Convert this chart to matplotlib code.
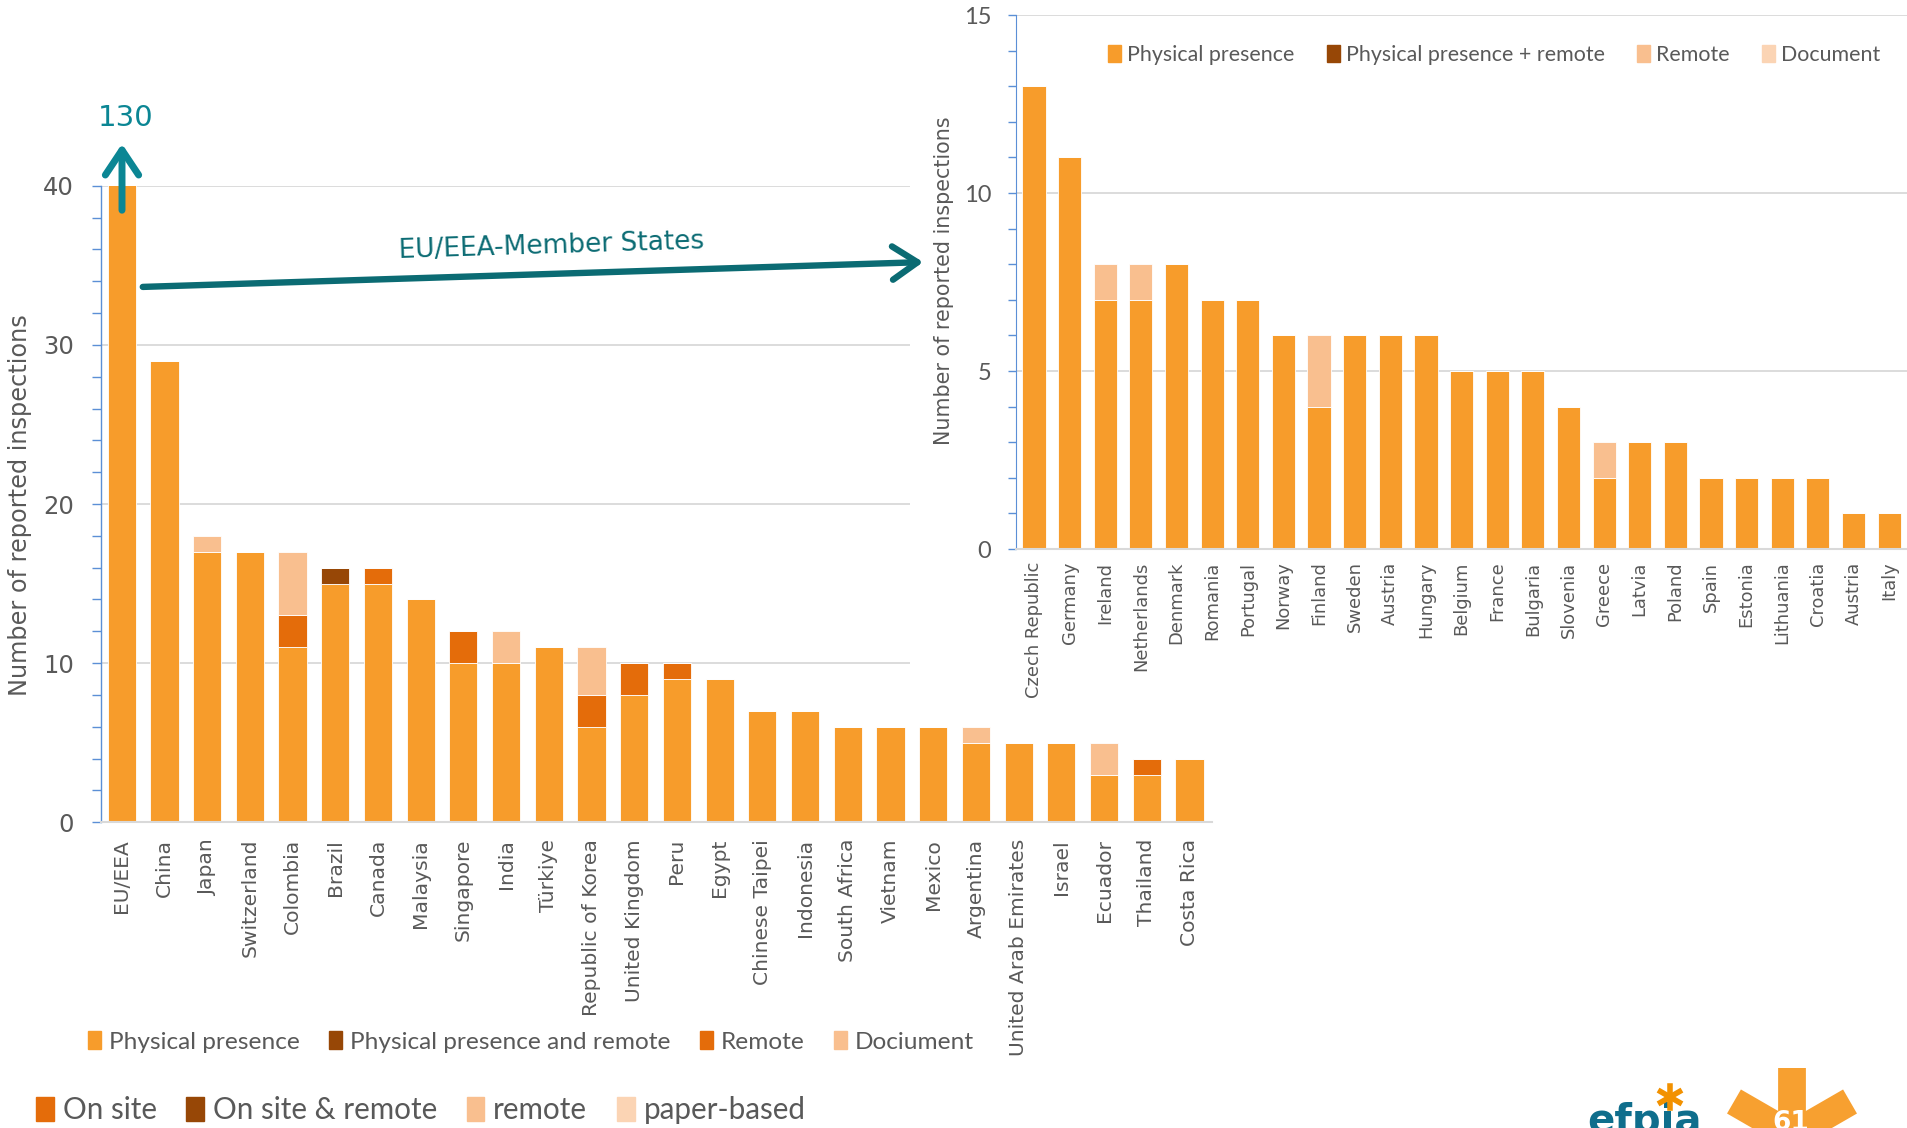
import numpy as np
import matplotlib
matplotlib.use("Agg")
import matplotlib.pyplot as plt
from matplotlib.patches import Patch, Rectangle, FancyArrowPatch
from matplotlib.lines import Line2D

# ---- data: left chart (all countries)
countries = ["EU/EEA", "China", "Japan", "Switzerland", "Colombia", "Brazil", "Canada",
             "Malaysia", "Singapore", "India", "Türkiye", "Republic of Korea",
             "United Kingdom", "Peru", "Egypt", "Chinese Taipei", "Indonesia",
             "South Africa", "Vietnam", "Mexico", "Argentina", "United Arab Emirates",
             "Israel", "Ecuador", "Thailand", "Costa Rica"]
phys = [130, 29, 17, 17, 11, 15, 15, 14, 10, 10, 11, 6, 8, 9, 9, 7, 7, 6, 6, 6, 5, 5, 5, 3, 3, 4]
phys_remote = [0, 0, 0, 0, 0, 1, 0, 0, 0, 0, 0, 0, 0, 0, 0, 0, 0, 0, 0, 0, 0, 0, 0, 0, 0, 0]
remote = [0, 0, 0, 0, 2, 0, 1, 0, 2, 0, 0, 2, 2, 1, 0, 0, 0, 0, 0, 0, 0, 0, 0, 0, 1, 0]
document = [0, 0, 1, 0, 4, 0, 0, 0, 0, 2, 0, 3, 0, 0, 0, 0, 0, 0, 0, 0, 1, 0, 0, 2, 0, 0]
eu_total_label = "130"

# ---- data: right chart (EU/EEA member states)
eu_countries = ["Czech Republic", "Germany", "Ireland", "Netherlands", "Denmark", "Romania",
                "Portugal", "Norway", "Finland", "Sweden", "Austria", "Hungary", "Belgium",
                "France", "Bulgaria", "Slovenia", "Greece", "Latvia", "Poland", "Spain",
                "Estonia", "Lithuania", "Croatia", "Austria", "Italy"]
eu_phys = [13, 11, 7, 7, 8, 7, 7, 6, 4, 6, 6, 6, 5, 5, 5, 4, 2, 3, 3, 2, 2, 2, 2, 1, 1]
eu_remote = [0, 0, 1, 1, 0, 0, 0, 0, 2, 0, 0, 0, 0, 0, 0, 0, 1, 0, 0, 0, 0, 0, 0, 0, 0]

# colours
c_phys = "#F79C2B"
c_physrem = "#974706"
c_remote = "#E46C0A"
c_doc = "#F9BF8F"
c_doc2 = "#FBD4B4"
grey_txt = "#595959"
grid_c = "#D9D9D9"
axis_blue = "#5B8FD6"
teal = "#0B6B73"
teal2 = "#0B8694"
narrow = ["Lato", "DejaVu Sans"]

W, H = 1908, 1128
fig = plt.figure(figsize=(W / 100, H / 100), dpi=100)


def fx(px):
    return px / W


def fy(py):
    return 1 - py / H


# ---------------- left chart
ax = fig.add_axes([fx(101), fy(822.3), (1211.7 - 101) / W, (822.3 - 185.7) / H], zorder=0)
x = np.arange(len(countries))
bw = 0.66
b = np.zeros(len(countries))
for vals, col in [(phys, c_phys), (phys_remote, c_physrem), (remote, c_remote), (document, c_doc)]:
    vals = np.array(vals)
    ax.bar(x, vals, bw, bottom=b, color=col, edgecolor="white", linewidth=0.6)
    b += vals
ax.set_xlim(-0.485, 25.52)
ax.set_ylim(0, 40)
ax.set_yticks([0, 10, 20, 30, 40])
ax.set_yticks(np.arange(0, 41, 2), minor=True)
ax.yaxis.grid(True, color=grid_c, lw=1.3)
ax.set_axisbelow(True)
for s in ["top", "right"]:
    ax.spines[s].set_visible(False)
ax.spines["left"].set_color(axis_blue)
ax.spines["left"].set_linewidth(1.0)
ax.spines["bottom"].set_color(grid_c)
ax.spines["bottom"].set_linewidth(1.5)
ax.tick_params(axis="y", which="both", direction="out", length=6.5, width=1,
               color=axis_blue, labelsize=17.5, labelcolor=grey_txt, pad=13)
ax.set_xticks(x)
ax.set_xticklabels(countries, rotation=90, fontsize=14.6, color=grey_txt)
ax.tick_params(axis="x", length=0, pad=12)

fig.text(fx(20), fy(505), "Number of reported inspections", rotation=90,
         ha="center", va="center", fontsize=17.3, color=grey_txt)

# white panel behind the inset chart
fig.add_artist(Rectangle((fx(910), fy(705)), 1 - fx(910), 705 / H,
                         transform=fig.transFigure, facecolor="white",
                         edgecolor="none", zorder=1))

# ---------------- right chart
ax2 = fig.add_axes([fx(1016), fy(549), (W - 1016) / W, (549 - 15) / H], zorder=2)
ax2.set_facecolor("white")
x2 = np.arange(len(eu_countries))
ax2.bar(x2, eu_phys, 0.65, color=c_phys, edgecolor="white", linewidth=0.6)
ax2.bar(x2, eu_remote, 0.65, bottom=eu_phys, color=c_doc, edgecolor="white", linewidth=0.6)
ax2.set_xlim(-0.506, 24.53)
ax2.set_ylim(0, 15)
ax2.set_yticks([0, 5, 10, 15])
ax2.set_yticks(np.arange(0, 16, 1), minor=True)
ax2.yaxis.grid(True, color=grid_c, lw=1.3)
ax2.set_axisbelow(True)
for s in ["top", "right"]:
    ax2.spines[s].set_visible(False)
ax2.spines["left"].set_color(axis_blue)
ax2.spines["bottom"].set_color(grid_c)
ax2.spines["bottom"].set_linewidth(1.5)
ax2.tick_params(axis="y", which="both", direction="out", length=5.8, width=1,
                color=axis_blue, labelcolor=grey_txt, pad=12)
for t in ax2.get_yticklabels():
    t.set_fontfamily(narrow)
    t.set_fontsize(17)
ax2.set_xticks(x2)
ax2.set_xticklabels(eu_countries, rotation=90, fontsize=12.9, color=grey_txt)
ax2.tick_params(axis="x", length=0, pad=9)

fig.text(fx(944), fy(281), "Number of reported inspections", rotation=90,
         ha="center", va="center", fontsize=14.9, color=grey_txt)

# ---------------- legends
sq = dict(edgecolor="none")
leg_r = fig.legend([Patch(color=c_phys, **sq), Patch(color=c_physrem, **sq),
                    Patch(color=c_doc, **sq), Patch(color=c_doc2, **sq)],
                   ["Physical presence", "Physical presence + remote", "Remote", "Document"],
                   loc="center left", bbox_to_anchor=(fx(1108), fy(55)), ncol=4, frameon=False,
                   prop={"family": narrow, "size": 15.4}, labelcolor=grey_txt,
                   handlelength=0.6, handleheight=0.8, handletextpad=0.3, columnspacing=1.5,
                   borderpad=0, borderaxespad=0)

leg_l = fig.legend([Patch(color=c_phys, **sq), Patch(color=c_physrem, **sq),
                    Patch(color=c_remote, **sq), Patch(color=c_doc, **sq)],
                   ["Physical presence", "Physical presence and remote", "Remote", "Dociument"],
                   loc="center left", bbox_to_anchor=(fx(88), fy(1042)), ncol=4, frameon=False,
                   prop={"family": narrow, "size": 17.6}, labelcolor=grey_txt,
                   handlelength=0.55, handleheight=0.7, handletextpad=0.3, columnspacing=1.2,
                   borderpad=0, borderaxespad=0)

leg_b = fig.legend([Patch(color=c_remote, **sq), Patch(color=c_physrem, **sq),
                    Patch(color=c_doc, **sq), Patch(color=c_doc2, **sq)],
                   ["On site", "On site & remote", "remote", "paper-based"],
                   loc="center left", bbox_to_anchor=(fx(36), fy(1110)), ncol=4, frameon=False,
                   prop={"family": narrow, "size": 21.3}, labelcolor=grey_txt,
                   handlelength=0.6, handleheight=0.85, handletextpad=0.3, columnspacing=1.0,
                   borderpad=0, borderaxespad=0)

# ---------------- annotations
fig.text(fx(126), fy(117.5), eu_total_label, ha="center", va="center",
         fontsize=21, color=teal2, zorder=5)
fig.add_artist(FancyArrowPatch((fx(122), fy(213)), (fx(122), fy(141)),
                               transform=fig.transFigure, arrowstyle="->,head_length=0.9,head_width=0.6",
                               mutation_scale=20, color=teal2, lw=5, zorder=5))
fig.add_artist(FancyArrowPatch((fx(140), fy(287)), (fx(926), fy(262)),
                               transform=fig.transFigure, arrowstyle="->,head_length=0.9,head_width=0.6",
                               mutation_scale=20, color=teal, lw=4.6, zorder=5))
fig.text(fx(551), fy(246), "EU/EEA-Member States", rotation=1.8, ha="center", va="center",
         fontsize=19, color=teal, zorder=5)

# ---------------- logo (partly cut by the slide edge)
fig.text(fx(1587), fy(1133), "efpia", ha="left", va="baseline", fontsize=29,
         fontweight="bold", color="#0F6E8C", zorder=6)
for ang in [90, 30, 150]:
    a = np.deg2rad(ang)
    cx, cy, r = 1670, 1097, 11
    fig.add_artist(Line2D([fx(cx - r * np.cos(a)), fx(cx + r * np.cos(a))],
                          [fy(cy + r * np.sin(a)), fy(cy - r * np.sin(a))],
                          transform=fig.transFigure, color="#F29100", lw=4, zorder=7))
for ang in [90, 30, 150]:
    a = np.deg2rad(ang)
    cx, cy, r = 1792, 1135, 67
    fig.add_artist(Line2D([fx(cx - r * np.cos(a)), fx(cx + r * np.cos(a))],
                          [fy(cy + r * np.sin(a)), fy(cy - r * np.sin(a))],
                          transform=fig.transFigure, color="#F7A030", lw=20,
                          solid_capstyle="butt", zorder=6))
fig.text(fx(1791), fy(1110), "61", ha="center", va="top", fontsize=19,
         fontweight="bold", color="white", zorder=7)

fig.savefig("out.png", dpi=100)
